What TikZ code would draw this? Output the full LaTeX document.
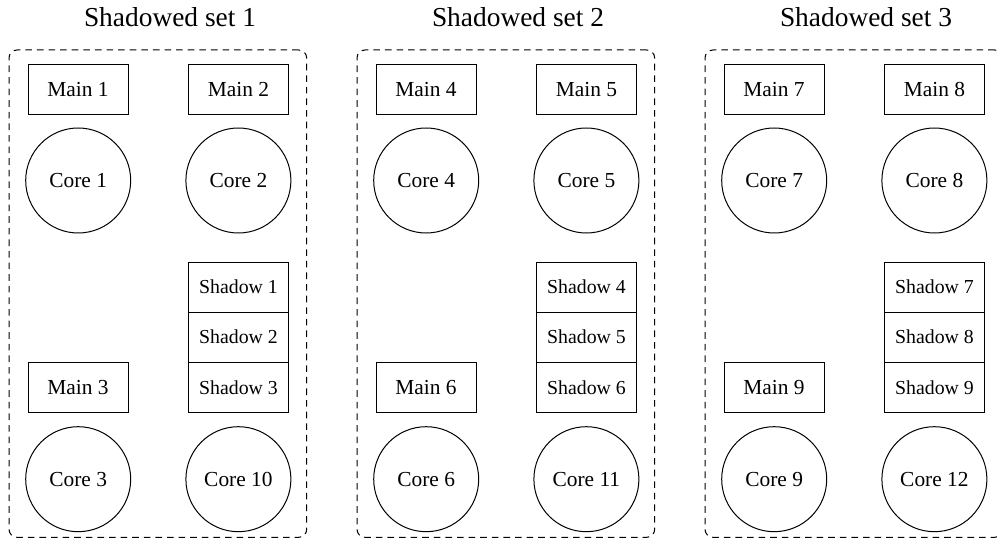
\documentclass[tikz,border=0pt]{standalone}
\usepackage{fontspec}
\setmainfont{Liberation Serif}
\begin{document}
\begin{tikzpicture}[x=0.5pt,y=-0.5pt,
  mainbox/.style={draw,line width=0.5pt,rectangle,minimum width=50pt,minimum height=25pt,inner sep=0pt,font=\fontsize{10.7pt}{12pt}\selectfont},
  shadowbox/.style={draw,line width=0.5pt,rectangle,minimum width=50pt,minimum height=25pt,inner sep=0pt,font=\fontsize{9.9pt}{12pt}\selectfont},
  corecirc/.style={draw,line width=0.5pt,circle,minimum size=52.5pt,inner sep=0pt,font=\fontsize{10.7pt}{12pt}\selectfont},
  setframe/.style={draw,line width=0.5pt,dash pattern=on 3.3pt off 2.5pt,rounded corners=4pt},
  settitle/.style={font=\fontsize{13.7pt}{16pt}\selectfont,inner sep=0pt,anchor=base}]
\useasboundingbox (0,0) rectangle (997,540);
\foreach \s in {0,1,2}{
  \pgfmathsetmacro{\dx}{348*\s}
  \pgfmathtruncatemacro{\setno}{\s+1}
  \pgfmathtruncatemacro{\ma}{3*\s+1}
  \pgfmathtruncatemacro{\mb}{3*\s+2}
  \pgfmathtruncatemacro{\mc}{3*\s+3}
  \pgfmathtruncatemacro{\cx}{10+\s}
  \begin{scope}[xshift=\dx*0.5pt]
    \node[settitle] (title\setno) at (170,26.7) {Shadowed set \setno};
    \node[setframe,minimum width=148.85pt,minimum height=243.65pt,inner sep=0pt] (frame\setno) at (157.85,293.65) {};
    \node[mainbox] (main\ma) at (78,89.2) {Main \ma};
    \node[mainbox] (main\mb) at (238.5,89.2) {Main \mb};
    \node[corecirc] (core\ma) at (78.2,180.5) {Core \ma};
    \node[corecirc] (core\mb) at (238.4,180.5) {Core \mb};
    \node[shadowbox] (shadow\ma) at (238.5,287) {Shadow \ma};
    \node[shadowbox] (shadow\mb) at (238.5,337) {Shadow \mb};
    \node[shadowbox] (shadow\mc) at (238.5,387.4) {Shadow \mc};
    \node[mainbox] (main\mc) at (78,387.7) {Main \mc};
    \node[corecirc] (core\mc) at (78.2,479.2) {Core \mc};
    \node[corecirc] (core\cx) at (238.4,479.2) {Core \cx};
  \end{scope}
}
\end{tikzpicture}
\end{document}
